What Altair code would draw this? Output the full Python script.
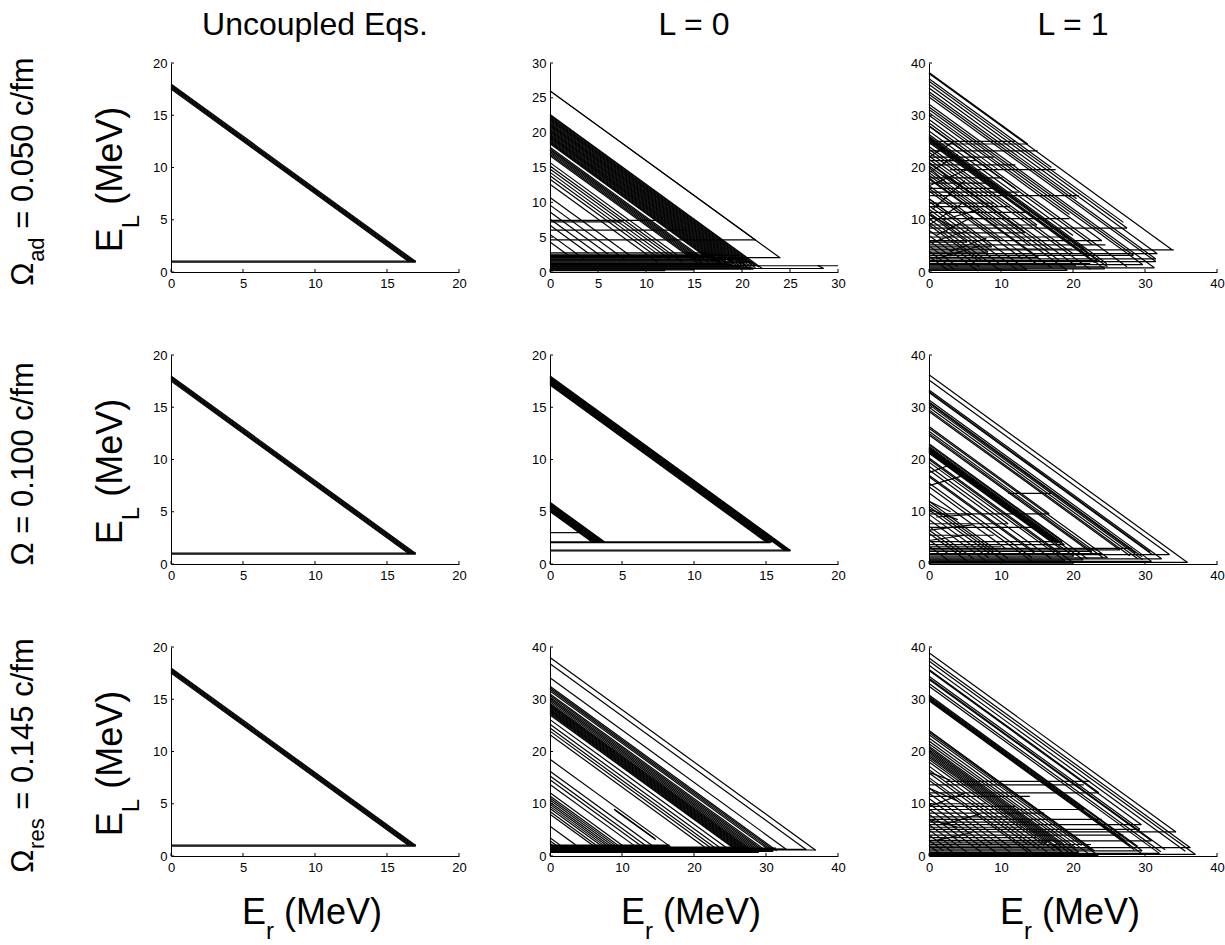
import altair as alt
import pandas as pd

FONT = "Liberation Sans"
W, H = 288, 209

# ---------------- data (E_r, E_L in MeV) ----------------
# diagonal trajectories: (total energy = E_L at E_r=0, E_L where the diagonal ends)
# horizontal segments: (E_L, E_r start, E_r end)
# free segments: (E_r1, E_L1, E_r2, E_L2)

# Uncoupled equations (same in all three rows)
U_diag = [(17.5, 1.0), (17.6, 1.0), (17.7, 1.0), (17.8, 1.0), (17.9, 1.0), (18.0, 1.0)]
U_horiz = [(0.94, 0, 17.0), (1.04, 0, 17.0)]
U_free = []

# L = 0, Omega_ad
A_diag = [(26.0, 4.6), (26.0, 2.05), (22.6, 0.5), (22.45, 0.7), (22.3, 0.9), (22.15, 1.1),
          (22.0, 0.6), (21.85, 1.3), (21.7, 0.8), (21.55, 1.5), (21.4, 1.0), (21.25, 0.4),
          (21.1, 1.2), (20.95, 0.7), (20.8, 1.6), (20.65, 0.9), (20.5, 1.4), (20.35, 0.6),
          (20.2, 1.1), (20.05, 1.8), (19.9, 0.8), (19.75, 1.3), (19.6, 1.0), (19.45, 2.2),
          (19.3, 1.5), (19.15, 0.9), (19.0, 1.2), (18.85, 1.7), (18.7, 1.0), (18.55, 2.0),
          (18.4, 1.4), (17.9, 1.2), (17.7, 2.0), (17.5, 1.6), (17.3, 2.4),
          (17.1, 1.1), (16.9, 1.7), (16.7, 1.3), (15.7, 2.0), (15.2, 1.5), (14.8, 2.3),
          (14.3, 1.8), (13.8, 2.6), (13.3, 2.0), (12.6, 1.4), (10.7, 2.2), (9.6, 1.7),
          (8.6, 2.5), (7.6, 2.0), (6.7, 2.7), (5.4, 1.9), (4.3, 2.2)]
A_horiz = [(7.4, 0, 11.0), (7.2, 0, 7.5), (6.0, 0, 14.2), (4.6, 0, 21.4), (2.75, 0, 16.5),
           (2.55, 0, 18.0), (2.4, 0, 19.6), (2.2, 0, 17.2), (2.05, 0, 24.0), (1.9, 0, 19.0),
           (1.8, 0, 20.5), (1.7, 0, 17.5), (1.6, 0, 18.0), (1.45, 0, 21.0), (1.3, 0, 20.3),
           (1.2, 0, 18.5), (1.1, 0, 19.0), (1.0, 0, 21.4), (0.9, 0, 30.0), (0.8, 0, 20.0),
           (0.7, 0, 21.0), (0.6, 0, 21.2), (0.5, 0, 28.5), (0.4, 0, 21.2), (0.3, 0, 15.0),
           (0.2, 0, 12.0)]
A_free = [(27.9, 0.95, 28.5, 0.5)]

# L = 0, Omega = 0.100
B_diag = [(18.0, 1.3), (17.92, 1.3), (17.84, 1.3), (17.76, 1.3), (17.68, 1.3), (17.6, 1.3),
          (17.52, 2.1), (17.44, 2.1), (17.36, 2.1), (17.28, 2.1), (17.2, 2.1), (17.12, 2.1),
          (5.9, 2.1), (5.82, 2.1), (5.74, 2.1), (5.66, 2.1), (5.58, 2.1), (5.5, 2.1),
          (5.42, 2.1), (5.34, 2.1), (5.26, 2.1), (5.18, 2.1), (5.1, 2.1), (5.02, 2.1)]
B_horiz = [(1.34, 0, 16.7), (1.26, 0, 16.7), (2.12, 0, 15.4), (2.05, 0, 15.3), (3.0, 0, 2.1)]
B_free = []

# L = 0, Omega_res
C_diag = [(38.0, 1.1), (36.8, 1.2), (34.1, 1.3), (32.5, 1.0), (32.2, 1.2), (31.9, 1.0),
          (31.6, 1.4), (31.0, 1.2), (30.7, 1.3), (30.4, 1.0), (30.1, 1.5), (29.8, 1.2),
          (29.5, 1.3), (29.2, 1.0), (29.0, 1.4), (28.8, 1.2), (28.6, 1.1), (28.4, 1.5),
          (28.2, 1.3), (28.0, 1.0), (27.8, 1.2), (27.6, 1.4), (27.4, 1.1), (27.2, 1.3),
          (27.0, 1.0), (26.1, 1.4), (25.2, 1.1), (24.5, 1.3), (23.9, 1.2), (23.2, 1.5),
          (18.5, 1.7), (16.2, 1.5), (15.3, 1.6), (14.6, 1.4), (13.7, 1.7), (12.1, 1.6),
          (11.5, 1.4), (11.1, 1.7), (10.7, 1.3), (10.3, 1.6), (9.9, 1.4), (9.5, 1.7),
          (9.1, 1.3), (8.5, 1.6), (8.0, 1.4), (5.7, 1.6), (3.5, 1.7), (2.9, 1.5), (2.4, 1.9)]
C_horiz = [(2.1, 0, 16.6), (2.0, 0, 16.6), (1.9, 0, 16.6), (1.8, 0, 16.4), (1.7, 0, 27.5),
           (1.6, 0, 27.5), (1.5, 0, 31.4), (1.4, 0, 31.0), (1.3, 0, 32.8), (1.2, 0, 31.4),
           (1.1, 0, 30.5), (1.0, 0, 31.0), (0.9, 0, 31.0), (0.8, 0, 29.0), (0.7, 0, 29.0),
           (1.15, 0, 36.9), (1.25, 0, 35.6)]
C_free = [(8.9, 9.0, 14.6, 3.3), (9.0, 8.8, 14.7, 3.1)]

# L = 1, Omega_ad
D_diag = [(38.2, 24.5), (38.0, 4.25), (37.0, 20.0), (36.5, 9.5), (35.9, 8.4), (35.2, 3.5),
          (34.5, 14.0), (34.0, 2.5), (33.5, 2.0), (32.1, 0.8), (31.6, 3.2), (31.1, 1.4),
          (30.5, 11.0), (30.0, 6.0), (29.2, 19.5), (28.5, 1.0), (28.0, 16.0), (27.9, 5.2),
          (27.0, 7.0), (26.3, 1.6), (26.0, 4.4), (25.8, 1.0), (25.6, 2.2), (25.4, 14.6),
          (25.2, 3.0), (25.0, 0.6), (24.8, 1.8), (24.0, 9.0), (23.5, 3.5), (22.9, 0.5),
          (22.2, 12.5), (21.6, 1.2), (21.0, 4.4), (20.8, 7.5), (20.3, 2.0), (19.5, 0.3),
          (19.0, 5.0), (18.5, 9.0), (18.0, 2.8), (17.8, 0.8), (16.5, 1.6), (16.0, 6.0),
          (15.5, 2.5), (14.0, 0.4), (13.5, 4.8), (12.7, 0.5), (12.0, 3.8), (11.4, 1.5),
          (11.0, 5.7), (10.2, 0.4), (9.5, 2.2), (9.0, 2.0), (8.0, 1.0), (7.0, 0.2),
          (6.0, 3.0), (5.0, 1.0), (4.0, 0.5), (3.0, 0.3)]
D_horiz = [(25.0, 0, 12.0), (24.5, 0, 13.7), (23.2, 0, 15.1), (22.0, 0, 9.0), (21.3, 0, 6.5),
           (20.5, 0, 12.0), (19.6, 2.9, 17.6), (18.0, 0, 10.2), (17.0, 0, 8.0), (16.0, 0, 9.5),
           (15.3, 0, 12.5), (14.6, 0, 20.8), (13.2, 0, 9.0), (12.5, 0, 11.2), (11.4, 0, 14.0),
           (10.2, 0, 19.5), (9.0, 0, 15.0), (8.4, 0, 27.5), (7.5, 0, 13.3), (6.7, 0, 19.2),
           (6.0, 0, 24.0), (5.7, 0, 5.3), (5.2, 0, 24.5), (4.8, 0, 8.7), (4.4, 0, 19.9),
           (4.25, 0, 34.0), (3.8, 0, 8.2), (3.5, 0, 31.7), (3.2, 0, 28.4), (2.8, 0, 15.2),
           (2.5, 0, 31.5), (2.2, 0, 23.4), (2.0, 0, 31.5), (1.6, 0, 22.4), (1.4, 0, 29.7),
           (1.2, 0, 20.4), (1.0, 0, 24.5), (0.8, 0, 31.3), (0.6, 0, 24.4), (0.4, 0, 13.6),
           (0.3, 0, 19.2)]
D_free = [(0, 22.0, 3.5, 25.0), (0, 19.0, 4.0, 22.5), (0.5, 12.0, 5.0, 17.5), (0, 9.0, 4.5, 13.0),
          (0, 14.0, 3.0, 11.0), (1.0, 7.0, 6.0, 10.5), (0, 5.5, 5.5, 8.0), (2.0, 18.5, 6.0, 15.0),
          (0, 16.5, 6.0, 20.0), (3.0, 4.0, 8.0, 6.5), (0, 11.0, 3.5, 8.5), (1.0, 2.5, 7.0, 5.0),
          (0, 20.0, 2.5, 17.0), (2.0, 10.0, 7.0, 12.0)]

# L = 1, Omega = 0.100
E_diag = [(36.2, 0.3), (35.2, 1.8), (33.3, 1.0), (33.0, 2.3), (32.8, 1.8), (31.4, 0.5),
          (31.0, 1.4), (30.8, 2.1), (30.5, 0.8), (30.0, 1.0), (29.5, 1.6), (29.2, 2.7),
          (26.3, 9.6), (26.0, 1.2), (25.4, 1.2), (25.0, 2.4), (24.7, 2.0), (23.0, 1.0),
          (22.8, 4.3), (22.5, 3.7), (22.3, 4.4), (22.2, 0.8), (22.1, 4.1), (22.0, 4.0),
          (21.9, 4.1), (21.8, 4.2), (21.7, 4.3), (21.6, 1.5), (21.5, 4.4), (21.4, 4.5),
          (21.2, 3.0), (20.3, 0.4), (20.0, 2.0), (19.5, 0.6), (18.7, 7.7), (18.0, 1.0),
          (17.0, 2.4), (16.7, 2.0), (15.5, 1.2), (14.8, 0.5), (13.6, 3.0), (12.0, 1.0),
          (11.5, 2.6), (11.0, 0.3), (10.4, 2.0), (9.5, 1.2), (8.5, 0.5), (7.2, 1.0),
          (6.5, 2.0), (5.9, 0.3), (4.6, 2.0), (3.4, 0.5)]
E_horiz = [(9.6, 0, 16.7), (7.7, 0, 11.0), (7.0, 0, 15.0), (13.5, 11.0, 17.0), (5.5, 0, 9.0),
           (4.3, 0, 18.5), (3.7, 0, 18.8), (3.3, 0, 10.0), (3.0, 0, 28.2), (2.7, 0, 26.5),
           (2.4, 0, 22.6), (2.0, 0, 24.0), (1.8, 0, 33.4), (1.5, 0, 20.1), (1.2, 0, 24.8),
           (1.0, 0, 32.3), (0.8, 0, 21.4), (0.6, 0, 18.9), (0.5, 0, 30.9), (0.3, 0, 35.9),
           (0.15, 0, 20.0)]
E_free = [(0, 17.5, 3.0, 19.0), (0, 15.0, 5.0, 17.0), (0, 10.5, 4.0, 8.5), (0, 6.5, 6.0, 7.5),
          (1.0, 9.0, 6.0, 9.5), (0, 12.0, 3.0, 10.0), (0, 4.5, 5.0, 5.5)]

# L = 1, Omega_res
F_diag = [(38.9, 4.6), (37.9, 1.6), (37.3, 0.3), (36.5, 0.9), (35.7, 12.1), (35.5, 6.0),
          (34.4, 5.1), (34.0, 1.2), (33.8, 2.9), (33.0, 0.8), (32.5, 0.5), (30.8, 1.8),
          (30.6, 1.0), (30.4, 8.9), (30.2, 3.0), (30.0, 0.5), (29.9, 2.0), (29.7, 1.2),
          (24.0, 1.0), (23.9, 1.3), (23.6, 0.1), (23.2, 2.0), (22.6, 0.5), (22.0, 1.5),
          (21.5, 0.7), (21.0, 2.3), (20.7, 0.2), (20.4, 2.2), (20.1, 0.8), (19.8, 3.0),
          (19.5, 1.2), (19.2, 0.4), (18.9, 2.5), (18.5, 1.0), (18.0, 2.0), (17.2, 0.5),
          (16.5, 1.3), (15.9, 2.0), (15.0, 0.8), (14.5, 0.3), (13.0, 1.5), (12.0, 0.6),
          (11.0, 2.2), (10.0, 0.4), (9.0, 1.8), (8.0, 0.7), (7.0, 2.5), (6.0, 0.5),
          (5.0, 1.5), (4.0, 0.3), (3.0, 1.0), (2.0, 0.2)]
F_horiz = [(14.3, 2.4, 22.4), (13.6, 0, 21.5), (12.1, 0, 23.6), (11.4, 0, 14.0), (10.0, 0, 8.0),
           (9.5, 0, 12.0), (8.9, 0, 21.5), (8.2, 0, 16.0), (7.5, 0, 11.0), (7.0, 0, 24.0),
           (6.5, 0, 14.0), (6.0, 0, 29.5), (5.5, 0, 13.0), (5.1, 0, 29.3), (4.6, 0, 34.3),
           (4.0, 0, 27.0), (3.5, 0, 15.0), (3.0, 0, 17.0), (2.9, 0, 30.9), (2.5, 0, 16.4),
           (2.2, 0, 22.5), (1.9, 0, 20.0), (1.6, 0, 36.3), (1.3, 0, 22.6), (1.0, 0, 29.6),
           (0.7, 0, 20.8), (0.5, 0, 32.0), (0.3, 0, 37.0), (0.1, 0, 23.5)]
F_free = [(0, 9.5, 5.0, 12.0), (0, 7.0, 4.0, 5.5), (1.0, 3.0, 6.0, 4.5), (0, 13.0, 4.0, 10.5),
          (0, 16.0, 3.0, 14.5), (2.0, 6.0, 7.0, 8.0)]

TICKS_20 = [0, 5, 10, 15, 20]
TICKS_30 = [0, 5, 10, 15, 20, 25, 30]
TICKS_40 = [0, 10, 20, 30, 40]

COL_TITLES = ["Uncoupled Eqs.", "L = 0", "L = 1"]
ROW_LABELS = [[("Ω", 31, 0), ("ad", 22, 11), (" = 0.050 c/fm", 31, 0)],
              [("Ω = 0.100 c/fm", 31, 0)],
              [("Ω", 31, 0), ("res", 22, 11), (" = 0.145 c/fm", 31, 0)]]
YLABEL = [("E", 36, 0), ("L", 24, 17), (" (MeV)", 36, 0)]
XLABEL = [("E", 36, 0), ("r", 24, 15), (" (MeV)", 36, 0)]

# ---------------- helpers ----------------
CW = {' ': 278, '(': 333, ')': 333, '.': 278, '/': 278, '=': 584, 'E': 667, 'L': 556,
      'M': 833, 'V': 667, 'a': 556, 'c': 500, 'd': 556, 'e': 556, 'f': 278, 'm': 833,
      'r': 333, 's': 500, 'Ω': 768}


def tw(s, size):
    return sum(CW.get(c, 556) for c in s) * size / 1000.0


def txt(s, x, y, size, angle=0, align='left'):
    return alt.Chart(pd.DataFrame({'t': [s]})).mark_text(
        font=FONT, fontSize=size, angle=angle, align=align, baseline='alphabetic', color='black'
    ).encode(x=alt.value(x), y=alt.value(y), text='t:N')


def split_lead(s, size):
    # leading blanks are dropped by the renderer: turn them into an offset
    stripped = s.lstrip(' ')
    return stripped, tw(s[:len(s) - len(stripped)], size)


def rich_h(pieces, x_start, y_base):
    out, x = [], x_start
    for s, size, shift in pieces:
        body, lead = split_lead(s, size)
        out.append(txt(body, x + lead, y_base + shift, size))
        x += tw(s, size)
    return out


def rich_v(pieces, x_base, y_start):
    out, y = [], y_start
    for s, size, shift in pieces:
        body, lead = split_lead(s, size)
        out.append(txt(body, x_base + shift, y - lead, size, angle=270))
        y -= tw(s, size)
    return out


def total(pieces):
    return sum(tw(s, size) for s, size, _ in pieces)


def seg_frame(diag, horiz, free):
    rows = []
    for top, end in diag:
        rows.append(dict(x1=0.0, y1=top, x2=top - end, y2=end))
    for y, a, b in horiz:
        rows.append(dict(x1=a, y1=y, x2=b, y2=y))
    for a, b, c, d in free:
        rows.append(dict(x1=a, y1=b, x2=c, y2=d))
    return pd.DataFrame(rows)


AX = dict(title=None, grid=False, ticks=False, domainColor='black', domainWidth=1,
          labelColor='black', labelFont=FONT, labelFontSize=13, labelFlush=False,
          labelOverlap=False)


def panel(diag, horiz, free, xmax, ymax, xt, yt, extra):
    df = seg_frame(diag, horiz, free)
    xs = alt.Scale(domain=[0, xmax], nice=False, zero=False)
    ys = alt.Scale(domain=[0, ymax], nice=False, zero=False)
    xax = alt.Axis(values=xt, labelPadding=5, **AX)
    yax = alt.Axis(values=yt, labelPadding=4, **AX)
    segs = alt.Chart(df).mark_rule(color='black', strokeWidth=1.2).encode(
        x=alt.X('x1:Q', scale=xs, axis=xax), y=alt.Y('y1:Q', scale=ys, axis=yax),
        x2=alt.X2('x2'), y2=alt.Y2('y2'))
    xtk = alt.Chart(pd.DataFrame({'x1': xt})).mark_rule(color='black', strokeWidth=1).encode(
        x=alt.X('x1:Q', scale=xs, axis=xax), y=alt.value(H), y2=alt.value(H - 3))
    ytk = alt.Chart(pd.DataFrame({'y1': yt})).mark_rule(color='black', strokeWidth=1).encode(
        y=alt.Y('y1:Q', scale=ys, axis=yax), x=alt.value(0), x2=alt.value(3))
    return alt.layer(segs, xtk, ytk, *extra).properties(width=W, height=H)


def col_title(s):
    return [txt(s, W / 2, -28, 32, align='center')]


def row_label(i):
    p = ROW_LABELS[i]
    return rich_v(p, -138, H / 2 + 4 + total(p) / 2)


def y_label():
    return rich_v(YLABEL, -49, H / 2 + 12 + total(YLABEL) / 2)


def x_label():
    return rich_h(XLABEL, W / 2 - total(XLABEL) / 2 - 3, 277)


anchor = alt.Chart(pd.DataFrame({'a': [0]})).mark_rule(color='white', strokeWidth=1).encode(
    x=alt.value(-170.5), x2=alt.value(-169.5), y=alt.value(-62.5))

panels = [
    panel(U_diag, U_horiz, U_free, 20, 20, TICKS_20, TICKS_20,
          [anchor] + col_title(COL_TITLES[0]) + row_label(0) + y_label()),
    panel(A_diag, A_horiz, A_free, 30, 30, TICKS_30, TICKS_30, col_title(COL_TITLES[1])),
    panel(D_diag, D_horiz, D_free, 40, 40, TICKS_40, TICKS_40, col_title(COL_TITLES[2])),
    panel(U_diag, U_horiz, U_free, 20, 20, TICKS_20, TICKS_20, row_label(1) + y_label()),
    panel(B_diag, B_horiz, B_free, 20, 20, TICKS_20, TICKS_20, []),
    panel(E_diag, E_horiz, E_free, 40, 40, TICKS_40, TICKS_40, []),
    panel(U_diag, U_horiz, U_free, 20, 20, TICKS_20, TICKS_20, row_label(2) + y_label() + x_label()),
    panel(C_diag, C_horiz, C_free, 40, 40, TICKS_40, TICKS_40, x_label()),
    panel(F_diag, F_horiz, F_free, 40, 40, TICKS_40, TICKS_40, x_label()),
]

chart = alt.concat(*panels, columns=3, spacing={'row': 83, 'column': 91}, bounds='flush').properties(
    padding=0, background='white'
).configure_view(strokeWidth=0)

chart.save("out.html", embed_options={"renderer": "svg", "actions": False})
